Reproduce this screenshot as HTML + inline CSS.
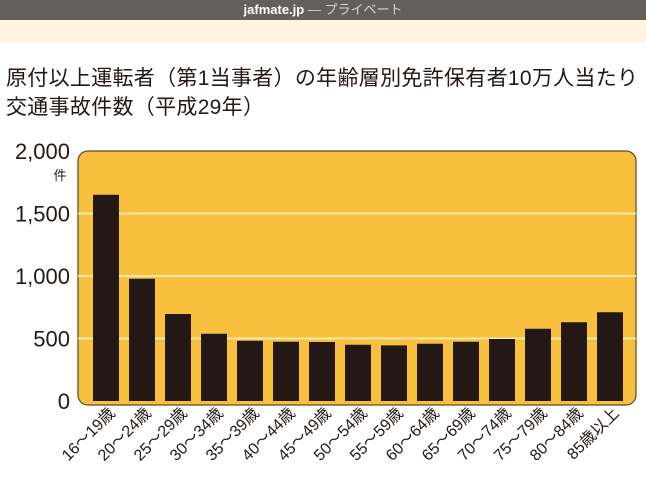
<!DOCTYPE html>
<html><head><meta charset="utf-8"><style>
body{margin:0;width:646px;height:480px;overflow:hidden;background:#fff;font-family:"Liberation Sans","Noto Sans CJK JP",sans-serif}
.top{position:absolute;left:0;top:0;width:646px;height:20px;background:#645f59;color:#fff;font-size:13px;text-align:center;line-height:20px}
.top span{color:#d8d4ce}
.cream{position:absolute;left:0;top:20px;width:646px;height:22px;background:#fff4e2}
.title{position:absolute;left:6px;top:64px;font-size:21px;line-height:29px;color:#231815;letter-spacing:0.3px}
</style></head><body>
<div class="top"><b>jafmate.jp</b> <span>— プライベート</span></div>
<div class="cream"></div>
<div class="title">原付以上運転者（第1当事者）の年齢層別免許保有者10万人当たり<br>交通事故件数（平成29年）</div>
<svg id="c" width="646" height="480" style="position:absolute;left:0;top:0"></svg>
<script>
const categories=["16～19歳","20～24歳","25～29歳","30～34歳","35～39歳","40～44歳","45～49歳","50～54歳","55～59歳","60～64歳","65～69歳","70～74歳","75～79歳","80～84歳","85歳以上"];
const values=[1650,978,696,538,482,474,472,450,445,458,474,496,578,630,710];
const ticks=[0,500,1000,1500,2000];
const tickLabels=["0","500","1,000","1,500","2,000"];
const svg=document.getElementById('c');const NS='http://www.w3.org/2000/svg';
const x0=78,x1=636,yTop=151,yBot=401,maxV=2000;
const y=v=>yBot-(v/maxV)*(yBot-yTop);
const first=106,last=610;
const xc=i=>first+i*(last-first)/(categories.length-1);
function mk(t,a){const e=document.createElementNS(NS,t);for(const k in a)e.setAttribute(k,a[k]);svg.appendChild(e);return e;}
const bg=mk('rect',{x:x0,y:yTop,width:x1-x0,height:yBot-yTop+4,rx:10,fill:'#f8c03d',stroke:'#5a4a2a','stroke-width':1.2});


ticks.forEach((t,i)=>{
 if(t>0&&t<maxV){const g=mk('line',{x1:x0,x2:x1,y1:y(t),y2:y(t),stroke:'#fff3c8','stroke-width':1.5});
 
 }
 const tx=mk('text',{x:70,y:y(t)+8,'text-anchor':'end','font-size':22,fill:'#231815'});tx.textContent=tickLabels[i];
 
 
});
const u=mk('text',{x:60,y:180,'text-anchor':'middle','font-size':13,fill:'#231815'});u.textContent='件';


values.forEach((v,i)=>{
 const b=mk('rect',{x:xc(i)-13,y:y(v),width:26,height:yBot-y(v),fill:'#231815'});
 
 
 const cx=xc(i)+10,cy=414;
 const t=mk('text',{x:cx,y:cy,'text-anchor':'end','font-size':16,fill:'#231815',transform:`rotate(-45 ${cx} ${cy})`});t.textContent=categories[i];
 
 
});
</script>
</body></html>
